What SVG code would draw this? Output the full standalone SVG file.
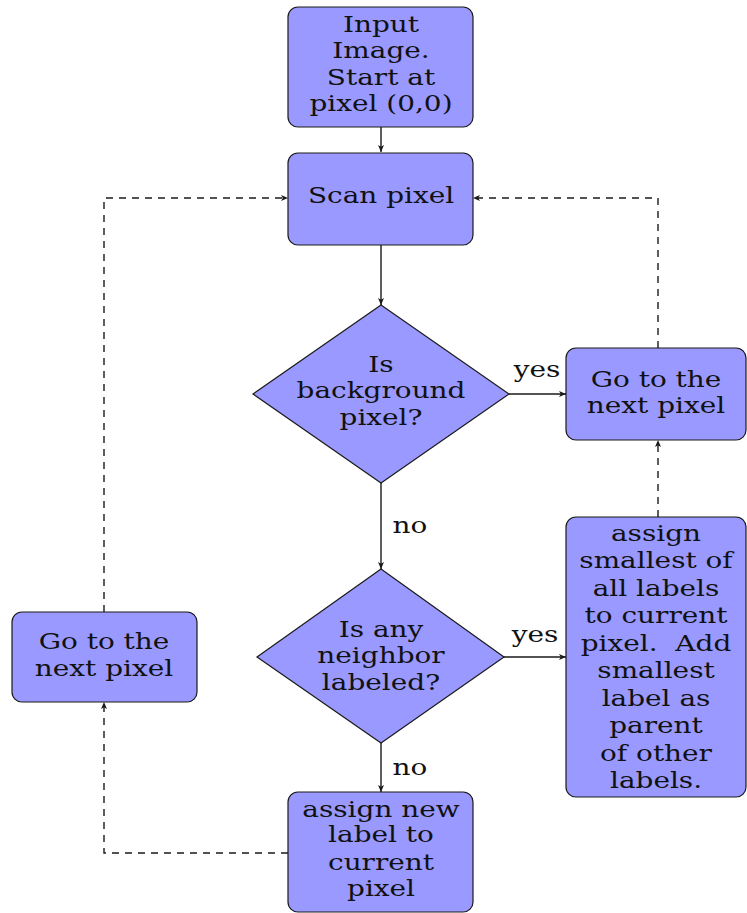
<svg xmlns="http://www.w3.org/2000/svg" width="747" height="913" viewBox="0 0 747 913">
<defs>
<style>
.box{fill:#9999ff;stroke:#1a1a1a;stroke-width:1.2}
.t{font-family:"DejaVu Serif","Liberation Serif",serif;font-size:22px;fill:#111;text-anchor:middle}
.e{fill:none;stroke:#1a1a1a;stroke-width:1.4}
.d{fill:none;stroke:#1a1a1a;stroke-width:1.4;stroke-dasharray:7 6}
</style>
<marker id="ah" markerWidth="8" markerHeight="6" refX="7" refY="3" orient="auto" markerUnits="userSpaceOnUse">
<path d="M0,0 L7,3 L0,6 L1.8,3 z" fill="#1a1a1a"/>
</marker>
</defs>
<rect width="747" height="913" fill="#fff"/>
<g id="connectors">
<line class="e" x1="381" y1="127" x2="381" y2="152" marker-end="url(#ah)"/>
<line class="e" x1="381" y1="245" x2="381" y2="305" marker-end="url(#ah)"/>
<line class="e" x1="509" y1="394" x2="566" y2="394" marker-end="url(#ah)"/>
<line class="e" x1="381" y1="483" x2="381" y2="569" marker-end="url(#ah)"/>
<line class="e" x1="504" y1="657" x2="566" y2="657" marker-end="url(#ah)"/>
<line class="e" x1="381" y1="743" x2="381" y2="792" marker-end="url(#ah)"/>
<line class="d" x1="658" y1="517" x2="658" y2="440" marker-end="url(#ah)"/>
<polyline class="d" points="658,348 658,198 473,198" marker-end="url(#ah)"/>
<polyline class="d" points="288,853 104,853 104,702" marker-end="url(#ah)"/>
<polyline class="d" points="104,612 104,198 288,198" marker-end="url(#ah)"/>
<g transform="translate(537,0) scale(1.27,1)"><text class="t" x="0" y="377">yes</text></g>
<g transform="translate(410,0) scale(1.27,1)"><text class="t" x="0" y="533">no</text></g>
<g transform="translate(535,0) scale(1.27,1)"><text class="t" x="0" y="642">yes</text></g>
<g transform="translate(410,0) scale(1.27,1)"><text class="t" x="0" y="775">no</text></g>
</g>
<g id="start">
<rect class="box" x="288" y="7" width="185" height="120" rx="10"/>
<g transform="translate(381,0) scale(1.27,1)">
<text class="t" x="0" y="32">Input</text>
<text class="t" x="0" y="58.5">Image.</text>
<text class="t" x="0" y="85">Start at</text>
<text class="t" x="0" y="111">pixel (0,0)</text>
</g>
</g>
<g id="scan">
<rect class="box" x="288" y="153" width="185" height="92" rx="10"/>
<g transform="translate(381,0) scale(1.27,1)"><text class="t" x="0" y="203">Scan pixel</text></g>
</g>
<g id="isbg">
<polygon class="box" points="381,305 509,394 381,483 253,394"/>
<g transform="translate(381,0) scale(1.27,1)">
<text class="t" x="0" y="372">Is</text>
<text class="t" x="0" y="398.5">background</text>
<text class="t" x="0" y="425">pixel?</text>
</g>
</g>
<g id="next1">
<rect class="box" x="566" y="348" width="180" height="92" rx="10"/>
<g transform="translate(656,0) scale(1.27,1)">
<text class="t" x="0" y="387">Go to the</text>
<text class="t" x="0" y="413.5">next pixel</text>
</g>
</g>
<g id="isnb">
<polygon class="box" points="381,569 504,657 381,743 257,657"/>
<g transform="translate(381,0) scale(1.27,1)">
<text class="t" x="0" y="637">Is any</text>
<text class="t" x="0" y="663.5">neighbor</text>
<text class="t" x="0" y="690">labeled?</text>
</g>
</g>
<g id="assignsmall">
<rect class="box" x="566" y="517" width="180" height="280" rx="10"/>
<g transform="translate(656,0) scale(1.27,1)">
<text class="t" x="0" y="541">assign</text>
<text class="t" x="0" y="568.5">smallest of</text>
<text class="t" x="0" y="596">all labels</text>
<text class="t" x="0" y="623.5">to current</text>
<text class="t" x="0" y="651">pixel.&#160; Add</text>
<text class="t" x="0" y="678.5">smallest</text>
<text class="t" x="0" y="706">label as</text>
<text class="t" x="0" y="733.5">parent</text>
<text class="t" x="0" y="761">of other</text>
<text class="t" x="0" y="788">labels.</text>
</g>
</g>
<g id="next2">
<rect class="box" x="12" y="612" width="185" height="90" rx="10"/>
<g transform="translate(104,0) scale(1.27,1)">
<text class="t" x="0" y="649.5">Go to the</text>
<text class="t" x="0" y="676">next pixel</text>
</g>
</g>
<g id="assignnew">
<rect class="box" x="288" y="792" width="185" height="120" rx="10"/>
<g transform="translate(381,0) scale(1.27,1)">
<text class="t" x="0" y="817">assign new</text>
<text class="t" x="0" y="842">label to</text>
<text class="t" x="0" y="870">current</text>
<text class="t" x="0" y="896.5">pixel</text>
</g>
</g>
</svg>
